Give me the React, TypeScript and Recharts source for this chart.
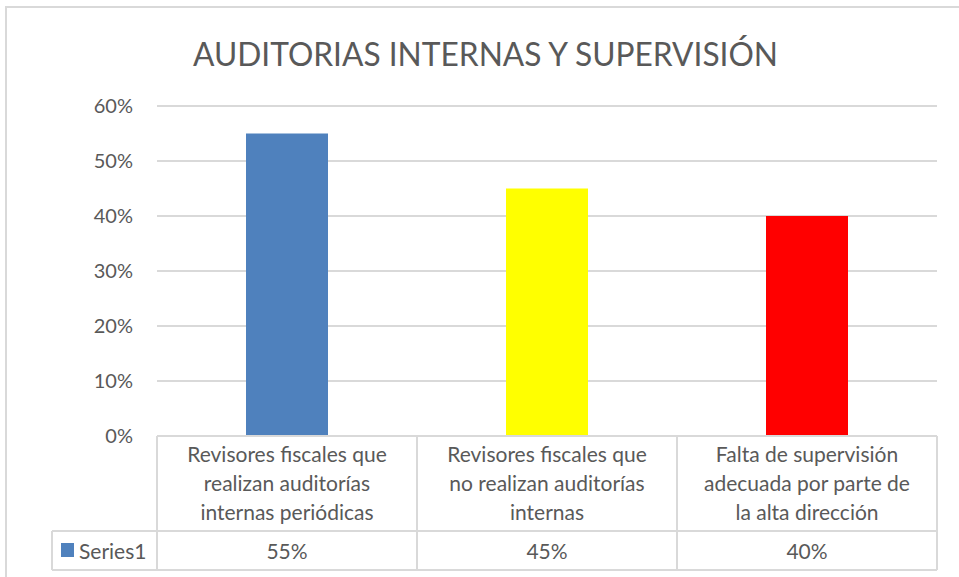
import React from "react";
import { BarChart, Bar, XAxis, YAxis, CartesianGrid, Cell } from "recharts";

const categories = [
  "Revisores fiscales que\nrealizan auditorías\ninternas periódicas",
  "Revisores fiscales que\nno realizan auditorías\ninternas",
  "Falta de supervisión\nadecuada por parte de\nla alta dirección",
];
const series1 = [0.55, 0.45, 0.4];
const barColors = ["#4f81bd", "#ffff00", "#ff0000"];
const yTicks = [0, 0.1, 0.2, 0.3, 0.4, 0.5, 0.6];
const seriesName = "Series1";
const title = "AUDITORIAS INTERNAS Y SUPERVISIÓN";

const data = categories.map((name, i) => ({ name, value: series1[i] }));

const FONT = "Lato, 'Open Sans', sans-serif";
const TEXT = "#595959";
const LINE = "#d9d9d9";

const pct = (v: number) => `${Math.round(v * 100)}%`;

function YTick(props: any) {
  const { x, y, payload } = props;
  return (
    <text x={x} y={y + 7} textAnchor="end" fontFamily={FONT} fontSize={20} fill={TEXT}>
      {pct(payload.value)}
    </text>
  );
}

// data table cell (category + value) under each bar
function TableTick(props: any) {
  const { x, y, payload, index } = props;
  const half = payload.offset || 130;
  const left = x - half;
  const right = x + half;
  const lines = String(payload.value).split("\n");
  const i = index ?? payload.index ?? 0;
  return (
    <g>
      <line x1={left} y1={y} x2={right} y2={y} stroke={LINE} strokeWidth={2} />
      <line x1={left} y1={y + 95} x2={right} y2={y + 95} stroke={LINE} strokeWidth={2} />
      <line x1={left} y1={y + 134} x2={right} y2={y + 134} stroke={LINE} strokeWidth={2} />
      <line x1={left} y1={y} x2={left} y2={y + 134} stroke={LINE} strokeWidth={2} />
      <line x1={right} y1={y} x2={right} y2={y + 134} stroke={LINE} strokeWidth={2} />
      {lines.map((ln, k) => (
        <text key={k} x={x} y={y + 26 + k * 29} textAnchor="middle" fontFamily={FONT} fontSize={21} fill={TEXT}>
          {ln}
        </text>
      ))}
      <text x={x} y={y + 123} textAnchor="middle" fontFamily={FONT} fontSize={21} fill={TEXT}>
        {pct(series1[i])}
      </text>
      {i === 0 && (
        <g>
          <line x1={52} y1={y + 95} x2={left} y2={y + 95} stroke={LINE} strokeWidth={2} />
          <line x1={52} y1={y + 134} x2={left} y2={y + 134} stroke={LINE} strokeWidth={2} />
          <line x1={52} y1={y + 95} x2={52} y2={y + 134} stroke={LINE} strokeWidth={2} />
          <rect x={61} y={y + 107} width={13} height={14} fill={barColors[0]} />
          <text x={79} y={y + 123} fontFamily={FONT} fontSize={21} fill={TEXT}>
            {seriesName}
          </text>
        </g>
      )}
    </g>
  );
}

export default function App() {
  return (
    <div style={{ position: "absolute", left: 0, top: 0, width: 959, height: 577, background: "#fff", overflow: "hidden" }}>
      <div
        style={{
          position: "absolute",
          left: 5,
          top: 6,
          width: 1000,
          height: 600,
          border: `2px solid ${LINE}`,
          boxSizing: "border-box",
        }}
      />
      <BarChart
        width={959}
        height={577}
        data={data}
        margin={{ top: 106, right: 22, left: 0, bottom: 0 }}
        style={{ position: "absolute", left: 0, top: 0 }}
      >
        <CartesianGrid horizontal vertical={false} stroke={LINE} strokeWidth={2} />
        <YAxis
          domain={[0, 0.6]}
          ticks={yTicks}
          width={157}
          tickSize={0}
          tickMargin={24}
          axisLine={false}
          tickLine={false}
          tick={<YTick />}
          interval={0}
        />
        <XAxis
          dataKey="name"
          height={141}
          tickSize={0}
          tickMargin={0}
          axisLine={false}
          tickLine={false}
          interval={0}
          tick={<TableTick />}
        />
        <Bar dataKey="value" barSize={82} isAnimationActive={false}>
          {data.map((d, i) => (
            <Cell key={d.name} fill={barColors[i]} />
          ))}
        </Bar>
      </BarChart>
      <svg width={959} height={577} style={{ position: "absolute", left: 0, top: 0, pointerEvents: "none" }}>
        <text
          x={485.5}
          y={66}
          textAnchor="middle"
          fontFamily={FONT}
          fontWeight={400}
          fontSize={33}
          fill={TEXT}
          textLength={585}
          lengthAdjust="spacingAndGlyphs"
        >
          {title}
        </text>
      </svg>
    </div>
  );
}
